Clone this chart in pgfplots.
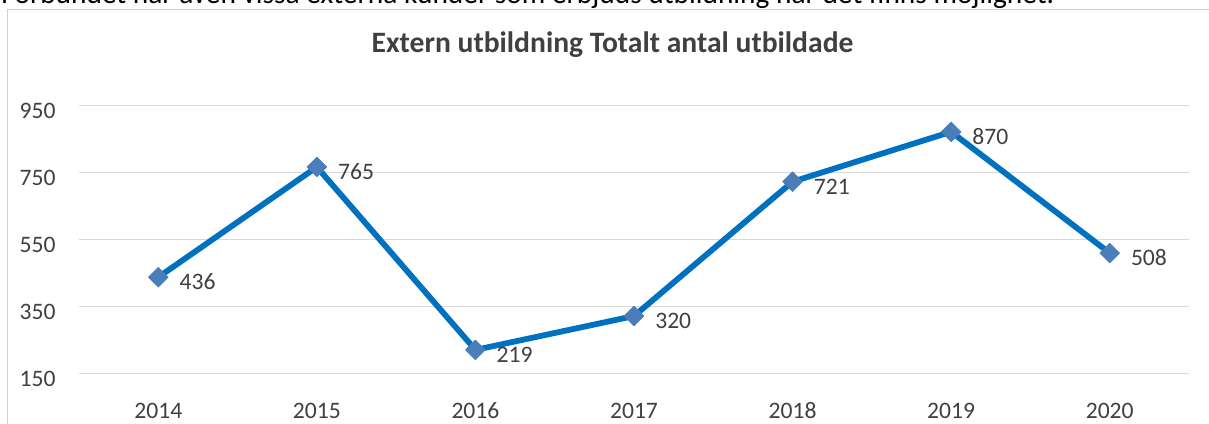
\documentclass[border=0pt]{standalone}
\usepackage{fontspec}
\setmainfont{Carlito}
\usepackage{pgfplots}
\pgfplotsset{compat=1.18}
\definecolor{lineblue}{HTML}{0070C0}
\definecolor{markblue}{HTML}{4A7EBB}
\definecolor{gridgray}{HTML}{D9D9D9}
\definecolor{framegray}{HTML}{D0D0D0}
\definecolor{txt}{HTML}{404040}
\begin{document}
\begin{tikzpicture}
\useasboundingbox (0,0) rectangle (604.5pt,211.5pt);
\clip (0,0) rectangle (604.5pt,211.5pt);
\node[anchor=base west, inner sep=0pt, font=\fontsize{14.7}{16}\selectfont] at (0.5pt,209.5pt) {Förbundet har även vissa externa kunder som erbjuds utbildning när det finns möjlighet.};
\draw[framegray, line width=0.75pt] (3.75pt,-2pt) -- (3.75pt,206.75pt) -- (606pt,206.75pt);
\node[anchor=base, inner sep=0pt, font=\fontsize{14.8}{17}\selectfont\bfseries, text=txt] at (306.25pt,185pt) {Extern utbildning Totalt antal utbildade};
\begin{axis}[
  at={(39.5pt,25pt)}, anchor=south west,
  scale only axis, width=555pt, height=134pt,
  xmin=-0.5, xmax=6.5, ymin=150, ymax=950,
  ytick={150,350,550,750,950},
  xtick={0,1,2,3,4,5,6},
  xticklabels={2014,2015,2016,2017,2018,2019,2020},
  axis line style={draw=none}, tick style={draw=none},
  ymajorgrids, grid style={gridgray, line width=0.5pt},
  /pgf/number format/assume math mode=true,
  tick label style={font=\fontsize{11.8}{13}\selectfont, text=txt},
  yticklabel style={anchor=base east, inner sep=0pt, xshift=-11.5pt, yshift=-6.5pt},
  xticklabel style={anchor=base, inner sep=0pt, yshift=-22.5pt},
  clip=false,
  nodes near coords,
  nodes near coords style={anchor=base west, inner sep=0pt, xshift=10.5pt, yshift=-6.25pt, font=\fontsize{11.8}{13}\selectfont, text=txt},
]
\addplot[color=lineblue, line width=2.9pt, line join=round,
  mark=square*, mark size=3.5pt,
  mark options={rotate=45, fill=markblue, draw=markblue, line width=0.3pt}]
  coordinates {(0,436) (1,765) (2,219) (3,320) (4,721) (5,870) (6,508)};
\end{axis}
\end{tikzpicture}
\end{document}
